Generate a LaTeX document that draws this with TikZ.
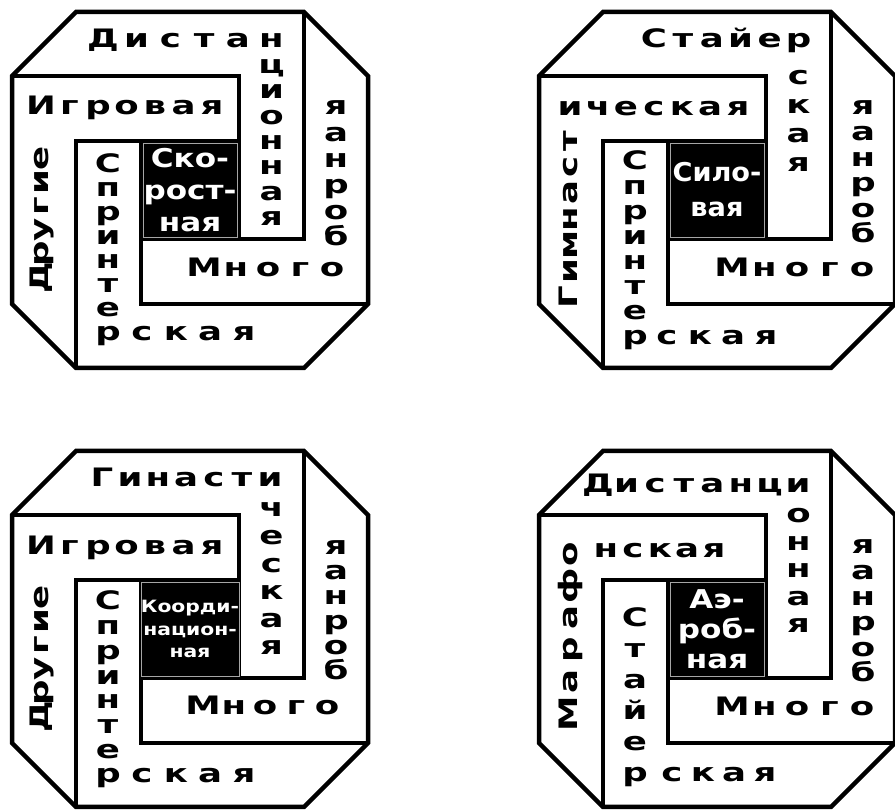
\documentclass[tikz,border=0pt]{standalone}
\usepackage{graphicx}
\usepackage{fontspec}
\newfontfamily\wfont{DejaVu Sans Bold}

\tikzset{
  wall/.style={line width=4.5bp, line join=miter},
  lt/.style={font=\wfont\fontsize{25.5}{25.5}\selectfont, inner sep=0pt, anchor=base},
  core/.style={fill=black, draw=gray!70, thin, text=white, minimum size=94bp, inner sep=0pt,
    align=center, font=\wfont\fontsize{26}{32}\selectfont},
}

% letters in a row, in a column, and turned up the left side
\newcommand\wide[1]{\scalebox{1.4}[1]{#1}}
\newcommand\cwide[1]{\scalebox{1.2}[1]{#1}}
\newcommand\hword[5]{\foreach \ltr [count=\idx from 0] in {#5}
  \node[lt] (#1\idx) at ({#2+\idx*(#4)},{#3}) {\wide{\ltr}};}
\newcommand\vword[5]{\foreach \ltr [count=\idx from 0] in {#5}
  \node[lt] (#1\idx) at ({#2},{#3-\idx*(#4)}) {\wide{\ltr}};}
\newcommand\rword[5]{\foreach \ltr [count=\idx from 0] in {#5}
  \node[lt, rotate=90] (#1\idx) at ({#2},{#3+\idx*(#4)}) {\wide{\ltr}};}

\begin{document}
\begin{tikzpicture}[x=1bp, y=1bp]
\path[fill=white] (0,0) rectangle (895,811);
\useasboundingbox (0,0) rectangle (895,811);

% the four pinwheels
\foreach \cx/\cy in {190/621, 717/621, 190/182, 717/182} {
  \begin{scope}[shift={(\cx,\cy)}]
    \draw[wall] (-114,178) -- (114,178) -- (178,114) -- (178,-114) -- (114,-178)
      -- (-114,-178) -- (-178,-114) -- (-178,114) -- cycle;
    \draw[wall] (-178,114) -- (49,114) -- (49,-49);
    \draw[wall] (114,178) -- (114,-49) -- (-49,-49);
    \draw[wall] (178,-114) -- (-49,-114) -- (-49,49);
    \draw[wall] (-114,-178) -- (-114,49) -- (49,49);
  \end{scope}
}

% top left
\begin{scope}[shift={(190,621)}]
  \hword{a1t}{-87}{142}{33.7}{Д,и,с,т,а,н}
  \vword{a1c}{81.5}{116.6}{25.4}{ц,и,о,н,н,а,я}
  \hword{a1g}{-149}{75}{28.5}{И,г,р,о,в,а,я}
  \rword{a1d}{-142}{-88}{24}{Д,р,у,г,и,е}
  \vword{a1s}{-82}{17}{24}{С,п,р,и,н,т,е,р}
  \hword{a1k}{-48}{-151}{34}{с,к,а,я}
  \hword{a1m}{14}{-87}{32}{М,н,о,г,о}
  \vword{a1b}{146}{-56}{-26.2}{б,о,р,н,а,я}
  \node[core] (a1sq) at (0,0) {\cwide{Ско-}\\\cwide{рост-}\\\cwide{ная}};
\end{scope}

% top right
\begin{scope}[shift={(717,621)}]
  \hword{a2t}{-63}{142}{28.9}{С,т,а,й,е,р}
  \vword{a2c}{81.5}{105}{29}{с,к,а,я}
  \hword{a2g}{-147}{74}{28}{и,ч,е,с,к,а,я}
  \rword{a2d}{-140}{-107}{26}{Г,и,м,н,а,с,т}
  \vword{a2s}{-82}{20}{25}{С,п,р,и,н,т,е,р}
  \hword{a2k}{-50}{-155}{33}{с,к,а,я}
  \hword{a2m}{15}{-87}{32.5}{М,н,о,г,о}
  \vword{a2b}{146}{-53}{-25.6}{б,о,р,н,а,я}
  \node[core, font=\wfont\fontsize{26}{35}\selectfont] (a2sq) at (0,0)
    {\scalebox{1.05}[1]{Сило-}\\\scalebox{1.05}[1]{вая}};
\end{scope}

% bottom left
\begin{scope}[shift={(190,182)}]
  \hword{a3t}{-88}{142}{28}{Г,и,н,а,с,т,и}
  \vword{a3c}{81.5}{112}{27.6}{ч,е,с,к,а,я}
  \hword{a3g}{-149}{74}{28.5}{И,г,р,о,в,а,я}
  \rword{a3d}{-142}{-88}{24}{Д,р,у,г,и,е}
  \vword{a3s}{-82}{19}{24.7}{С,п,р,и,н,т,е,р}
  \hword{a3k}{-48}{-154}{34}{с,к,а,я}
  \hword{a3m}{13}{-86}{31}{М,н,о,г,о}
  \vword{a3b}{146}{-51}{-25}{б,о,р,н,а,я}
  \node[core, font=\wfont\fontsize{17}{23}\selectfont] (a3sq) at (0,0)
    {\cwide{Коорди-}\\\cwide{национ-}\\\cwide{ная}};
\end{scope}

% bottom right
\begin{scope}[shift={(717,182)}]
  \hword{a4t}{-119}{136}{28.6}{Д,и,с,т,а,н,ц,и}
  \vword{a4c}{81.5}{106}{27.5}{о,н,н,а,я}
  \rword{a4d}{-140}{-85}{32}{М,а,р,а,ф,о}
  \hword{a4g}{-111}{71}{27}{н,с,к,а,я}
  \vword{a4s}{-82}{2}{31}{С,т,а,й,е,р}
  \hword{a4k}{-45}{-153}{31}{с,к,а,я}
  \hword{a4m}{15}{-87}{32.5}{М,н,о,г,о}
  \vword{a4b}{146}{-53}{-25.6}{б,о,р,н,а,я}
  \node[core, font=\wfont\fontsize{26}{30}\selectfont] (a4sq) at (0,0)
    {\cwide{Аэ-}\\\cwide{роб-}\\\cwide{ная}};
\end{scope}
\end{tikzpicture}
\end{document}
